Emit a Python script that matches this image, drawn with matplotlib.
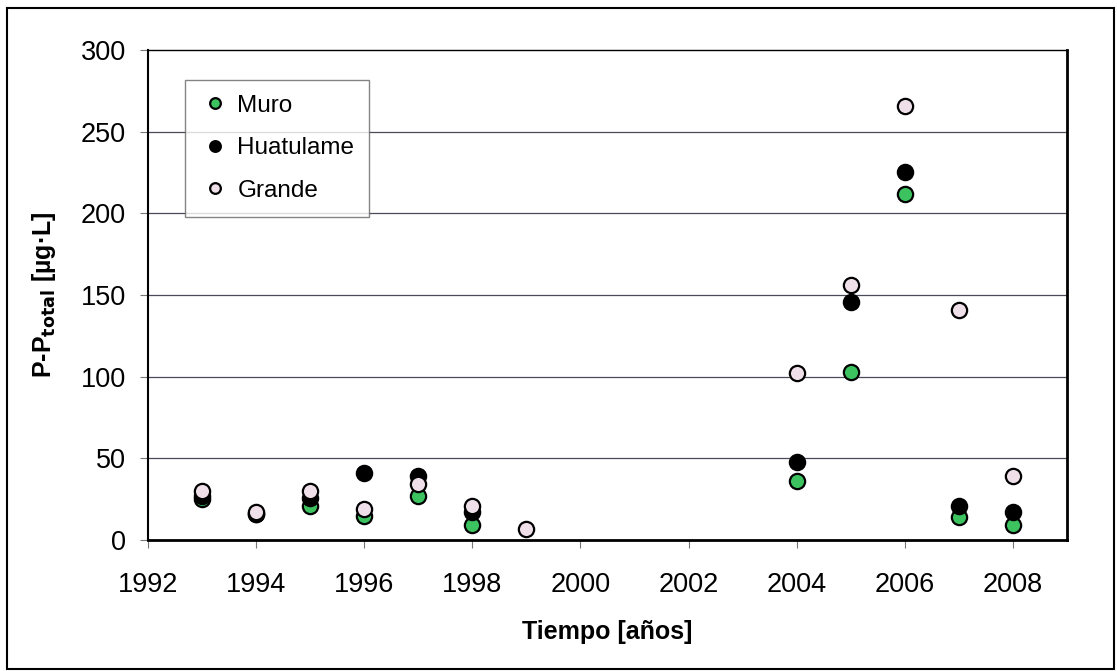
import matplotlib
matplotlib.use("Agg")
import matplotlib.pyplot as plt
from matplotlib.patches import Rectangle

plt.rcParams['font.family'] = ['Liberation Sans', 'DejaVu Sans']

years_muro = [1993, 1994, 1995, 1996, 1997, 1998, 2004, 2005, 2006, 2007, 2008]
muro = [25, 16, 21, 15, 27, 9, 36, 103, 212, 14, 9]

years_hua = [1993, 1994, 1995, 1996, 1997, 1998, 2004, 2005, 2006, 2007, 2008]
huatulame = [27, 16, 26, 41, 39, 17, 48, 146, 225, 21, 17]

years_grande = [1993, 1994, 1995, 1996, 1997, 1998, 1999, 2004, 2005, 2006, 2007, 2008]
grande = [30, 17, 30, 19, 34, 21, 7, 102, 156, 266, 141, 39]

xticks = list(range(1992, 2009, 2))
yticks = [0, 50, 100, 150, 200, 250, 300]

W, H = 1117, 671
fig = plt.figure(figsize=(W / 100, H / 100), dpi=100)
ax = fig.add_axes([148 / W, 1 - 540 / H, (1067 - 148) / W, (540 - 50) / H])

for y in yticks[1:-1]:
    ax.axhline(y, color='#4a4a58', lw=0.9, zorder=1)

ms = 11
ax.plot(years_muro, muro, 'o', ms=ms, mfc='#3cc25e', mec='black', mew=1.6, label='Muro', zorder=3)
ax.plot(years_hua, huatulame, 'o', ms=ms, mfc='black', mec='black', mew=1.6, label='Huatulame', zorder=4)
ax.plot(years_grande, grande, 'o', ms=ms, mfc='#eedfe8', mec='black', mew=1.6, label='Grande', zorder=5)

ax.set_xlim(1992, 2009)
ax.set_ylim(0, 300)
ax.set_xticks(xticks)
ax.set_yticks(yticks)
ax.tick_params(axis='both', direction='out', length=6, width=0.8, color='#777777',
               labelsize=19.5)
ax.tick_params(axis='x', pad=17)
ax.tick_params(axis='y', pad=10)
for s in ax.spines.values():
    s.set_linewidth(1.0)
    s.set_color('black')
ax.spines['left'].set_linewidth(1.5)
ax.spines['bottom'].set_linewidth(2.0)
ax.spines['right'].set_linewidth(2.0)

ax.set_xlabel('Tiempo [años]', fontsize=18, fontweight='bold', labelpad=16)
ax.set_ylabel(r'P-P$_{\mathbf{total}}$ [µg·L]', fontsize=18, fontweight='bold', labelpad=16)

leg = ax.legend(loc='upper left', bbox_to_anchor=(185 / W, 1 - 80 / H),
                bbox_transform=fig.transFigure, borderaxespad=0, fancybox=False,
                frameon=True, fontsize=17.5, markerscale=0.7, handletextpad=0.25,
                handlelength=1.3, labelspacing=0.85, borderpad=0.6)
leg.get_frame().set_edgecolor('#666666')
leg.get_frame().set_linewidth(1.0)

fig.patches.append(Rectangle((7 / W, 1 - 669 / H), (1114 - 7) / W, (669 - 8) / H,
                             transform=fig.transFigure, fill=False, ec='black', lw=1.5))

fig.savefig('out.png', dpi=100)
